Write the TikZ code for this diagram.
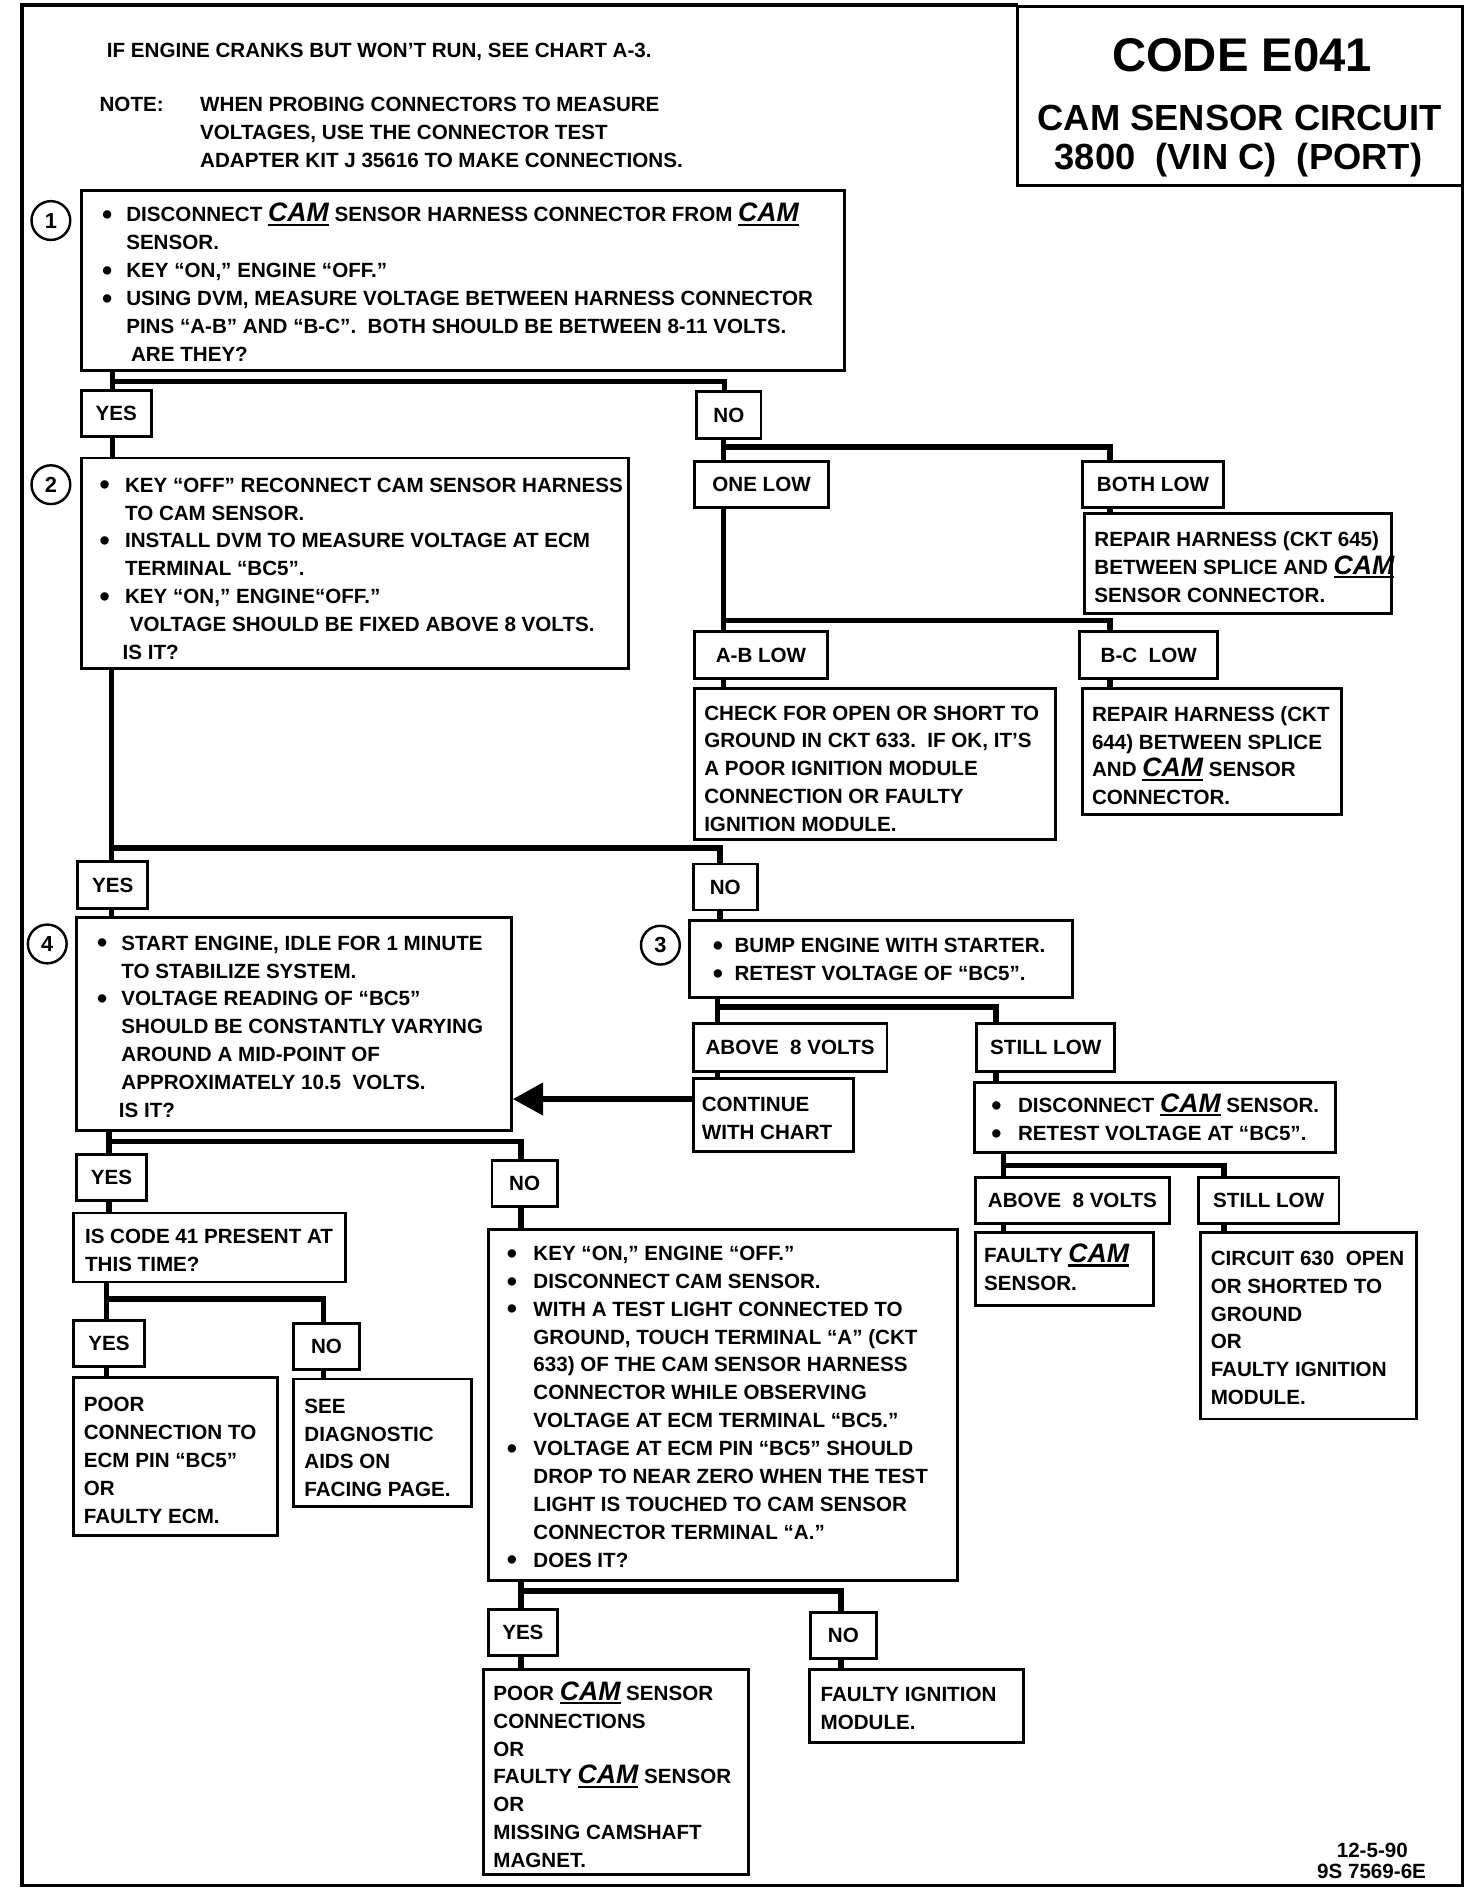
\documentclass[tikz,border=0pt]{standalone}
\usepackage{fontspec}
\setmainfont{Liberation Sans}
\usetikzlibrary{fit,arrows.meta}
\newcommand\cam{\setbox0\hbox{\fontsize{22}{23}\selectfont\bfseries\itshape CAM}\rlap{\rule[-3pt]{\wd0}{1.7pt}}\box0}
\newcommand\bu[1][20]{\makebox[#1pt][l]{\raisebox{-2.2pt}{\fontsize{24}{23}\selectfont\textbullet}}}
\newcommand\ind[1]{\hspace*{#1pt}}
\newcommand\st{\rule{0pt}{16pt}}
\begin{document}
\begin{tikzpicture}[x=1pt,y=-1pt,
  box/.style={draw, line width=2.4pt, inner sep=0pt},
  labt/.style={inner sep=0pt, font=\bfseries\fontsize{17}{23}\selectfont},
  txt/.style={anchor=north west, inner sep=0pt, align=left, font=\bfseries\fontsize{17}{23}\selectfont},
  conn/.style={line width=4.5pt, line cap=rect},
  circ/.style={draw, circle, line width=2pt, minimum size=32pt, inner sep=0pt, font=\bfseries\fontsize{18}{18}\selectfont}]
\useasboundingbox (0,0) rectangle (1213,1568);
% outer frame
\draw[line width=3pt] (840,4) -- (18,4) -- (18,1556) -- (1207,1556) -- (1207,153);
% title
\node[box, fit={(840,5) (1207,153)}] (title) {};
\node[anchor=base, font=\bfseries\fontsize{39}{40}\selectfont] (tt1) at (1025,59) {CODE E041};
\node[anchor=base, font=\bfseries\fontsize{30}{31}\selectfont] (tt2) at (1023,108) {CAM SENSOR CIRCUIT};
\node[anchor=base, font=\bfseries\fontsize{30}{31}\selectfont] (tt3) at (1022,140) {3800\ \ (VIN C)\ \ (PORT)};
% header
\node[txt] (h1) at (88,31) {\st IF ENGINE CRANKS BUT WON’T RUN, SEE CHART A-3.};
\node[txt] (h2) at (82,76) {\st NOTE:};
\node[txt] (h3) at (165,76) {\st WHEN PROBING CONNECTORS TO MEASURE\\VOLTAGES, USE THE CONNECTOR TEST\\ADAPTER KIT J 35616 TO MAKE CONNECTIONS.};
% box 1
\node[box, fit={(67,157) (697,306)}] (box1) {};
\node[circ] (c1) at (42,182) {1};
\node[txt] (box1t) at (84,167) {\st\bu DISCONNECT \cam\ SENSOR HARNESS CONNECTOR FROM \cam\\
\ind{20}SENSOR.\\
\bu KEY “ON,” ENGINE “OFF.”\\
\bu USING DVM, MEASURE VOLTAGE BETWEEN HARNESS CONNECTOR\\
\ind{20}PINS “A-B” AND “B-C”.\ \ BOTH SHOULD BE BETWEEN 8-11 VOLTS.\\
\ind{24}ARE THEY?};
\node[box, fit={(67,322) (125,360)}] (yes1) {};
\node[labt] (yes1t) at (yes1) {YES};
\node[box, fit={(575,323) (628,362)}] (no1) {};
\node[labt] (no1t) at (no1) {NO};
% box 2
\node[box, fit={(67,378) (519,552)}] (box2) {};
\node[circ] (c2) at (42,400) {2};
\node[txt] (box2t) at (82,390) {\st\bu[21]KEY “OFF” RECONNECT CAM SENSOR HARNESS\\
\ind{21}TO CAM SENSOR.\\
\bu[21]INSTALL DVM TO MEASURE VOLTAGE AT ECM\\
\ind{21}TERMINAL “BC5”.\\
\bu[21]KEY “ON,” ENGINE“OFF.”\\
\ind{25}VOLTAGE SHOULD BE FIXED ABOVE 8 VOLTS.\\
\ind{19}IS IT?};
% NO branch of box 1
\node[box, fit={(573,381) (684,419)}] (onelow) {};
\node[labt] (onelowt) at (onelow) {ONE LOW};
\node[box, fit={(893,381) (1010,419)}] (bothlow) {};
\node[labt] (bothlowt) at (bothlow) {BOTH LOW};
\node[box, fit={(895,424) (1148,506)}] (rep645) {};
\node[txt] (rep645t) at (903,435) {\st REPAIR HARNESS (CKT 645)\\BETWEEN SPLICE AND \cam\\SENSOR CONNECTOR.};
\node[box, fit={(573,521) (683,560)}] (ablow) {};
\node[labt] (ablowt) at (ablow) {A-B LOW};
\node[box, fit={(891,521) (1005,560)}] (bclow) {};
\node[labt] (bclowt) at (bclow) {B-C\ \ LOW};
\node[box, fit={(573,568) (871,693)}] (check) {};
\node[txt] (checkt) at (581,578) {\st CHECK FOR OPEN OR SHORT TO\\GROUND IN CKT 633.\ \ IF OK, IT’S\\A POOR IGNITION MODULE\\CONNECTION OR FAULTY\\IGNITION MODULE.};
\node[box, fit={(893,568) (1107,672)}] (rep644) {};
\node[txt] (rep644t) at (901,579) {\st REPAIR HARNESS (CKT\\644) BETWEEN SPLICE\\AND \cam\ SENSOR\\CONNECTOR.};
% level 2 decisions
\node[box, fit={(64,711) (122,750)}] (yes2) {};
\node[labt] (yes2t) at (yes2) {YES};
\node[box, fit={(572,713) (625,751)}] (no2) {};
\node[labt] (no2t) at (no2) {NO};
% box 4
\node[box, fit={(63,757) (422,933)}] (box4) {};
\node[circ] (c4) at (39,779) {4};
\node[txt] (box4t) at (80,768) {\st\bu START ENGINE, IDLE FOR 1 MINUTE\\
\ind{20}TO STABILIZE SYSTEM.\\
\bu VOLTAGE READING OF “BC5”\\
\ind{20}SHOULD BE CONSTANTLY VARYING\\
\ind{20}AROUND A MID-POINT OF\\
\ind{20}APPROXIMATELY 10.5\ \ VOLTS.\\
\ind{18}IS IT?};
% box 3
\node[box, fit={(569,760) (885,823)}] (box3) {};
\node[circ] (c3) at (545,780) {3};
\node[txt] (box3t) at (588,770) {\st\bu[18]BUMP ENGINE WITH STARTER.\\\bu[18]RETEST VOLTAGE OF “BC5”.};
\node[box, fit={(572,845) (732,884)}] (above1) {};
\node[labt] (above1t) at (above1) {ABOVE\ \ 8 VOLTS};
\node[box, fit={(806,845) (920,884)}] (still1) {};
\node[labt] (still1t) at (still1) {STILL LOW};
\node[box, fit={(572,890) (704,950)}] (cont) {};
\node[txt] (contt) at (579,901) {\st CONTINUE\\WITH CHART};
\node[box, fit={(804,893) (1102,951)}] (disc) {};
\node[txt] (disct) at (818,902) {\st\bu[22]DISCONNECT \cam\ SENSOR.\\\bu[22]RETEST VOLTAGE AT “BC5”.};
\node[box, fit={(805,972) (965,1010)}] (above2) {};
\node[labt] (above2t) at (above2) {ABOVE\ \ 8 VOLTS};
\node[box, fit={(989,972) (1105,1010)}] (still2) {};
\node[labt] (still2t) at (still2) {STILL LOW};
\node[box, fit={(805,1017) (952,1077)}] (fcam) {};
\node[txt] (fcamt) at (812,1026) {\st FAULTY \cam\\SENSOR.};
\node[box, fit={(991,1017) (1169,1171)}] (c630) {};
\node[txt] (c630t) at (999,1028) {\st CIRCUIT 630\ \ OPEN\\OR SHORTED TO\\GROUND\\OR\\FAULTY IGNITION\\MODULE.};
% below box 4
\node[box, fit={(63,953) (121,991)}] (yes3) {};
\node[labt] (yes3t) at (yes3) {YES};
\node[box, fit={(406,958) (460,996)}] (no3) {};
\node[labt] (no3t) at (no3) {NO};
\node[box, fit={(61,1001) (285,1058)}] (code41) {};
\node[txt] (code41t) at (70,1010) {\st IS CODE 41 PRESENT AT\\THIS TIME?};
\node[box, fit={(61,1090) (119,1128)}] (yes4) {};
\node[labt] (yes4t) at (yes4) {YES};
\node[box, fit={(242,1092) (297,1130)}] (no4) {};
\node[labt] (no4t) at (no4) {NO};
\node[box, fit={(61,1137) (229,1267)}] (poorconn) {};
\node[txt] (poorconnt) at (69,1149) {\st POOR\\CONNECTION TO\\ECM PIN “BC5”\\OR\\FAULTY ECM.};
\node[box, fit={(242,1138) (389,1243)}] (seediag) {};
\node[txt] (seediagt) at (251,1150) {\st SEE\\DIAGNOSTIC\\AIDS ON\\FACING PAGE.};
\node[box, fit={(403,1015) (790,1304)}] (big) {};
\node[txt] (bigt) at (418,1024) {\st\bu[22]KEY “ON,” ENGINE “OFF.”\\
\bu[22]DISCONNECT CAM SENSOR.\\
\bu[22]WITH A TEST LIGHT CONNECTED TO\\
\ind{22}GROUND, TOUCH TERMINAL “A” (CKT\\
\ind{22}633) OF THE CAM SENSOR HARNESS\\
\ind{22}CONNECTOR WHILE OBSERVING\\
\ind{22}VOLTAGE AT ECM TERMINAL “BC5.”\\
\bu[22]VOLTAGE AT ECM PIN “BC5” SHOULD\\
\ind{22}DROP TO NEAR ZERO WHEN THE TEST\\
\ind{22}LIGHT IS TOUCHED TO CAM SENSOR\\
\ind{22}CONNECTOR TERMINAL “A.”\\
\bu[22]DOES IT?};
\node[box, fit={(403,1328) (460,1366)}] (yes5) {};
\node[labt] (yes5t) at (yes5) {YES};
\node[box, fit={(669,1331) (723,1369)}] (no5) {};
\node[labt] (no5t) at (no5) {NO};
\node[box, fit={(399,1378) (618,1547)}] (poorcam) {};
\node[txt] (poorcamt) at (407,1387) {\st POOR \cam\ SENSOR\\CONNECTIONS\\OR\\FAULTY \cam\ SENSOR\\OR\\MISSING CAMSHAFT\\MAGNET.};
\node[box, fit={(668,1378) (845,1438)}] (fign) {};
\node[txt] (fignt) at (677,1388) {\st FAULTY IGNITION\\MODULE.};
% footer
\node[anchor=base east, inner sep=0pt, font=\bfseries\fontsize{17}{17}\selectfont] (f1) at (1162,1533) {12-5-90};
\node[anchor=base east, inner sep=0pt, font=\bfseries\fontsize{17}{17}\selectfont] (f2) at (1177,1550) {9S 7569-6E};
% junction coordinates
\coordinate (j1) at (93,315);   \coordinate (j1r) at (598,315);
\coordinate (j2) at (597,369);  \coordinate (j2r) at (916,369);
\coordinate (j3) at (597,512);  \coordinate (j3r) at (916,512);
\coordinate (j4) at (92,700);   \coordinate (j4r) at (594,700);
\coordinate (j5) at (592,831);  \coordinate (j5r) at (822,831);
\coordinate (j6) at (828,962);  \coordinate (j6r) at (1010,962);
\coordinate (j7) at (90,942);   \coordinate (j7r) at (430,942);
\coordinate (j8) at (88,1072);  \coordinate (j8r) at (267,1072);
\coordinate (j9) at (430,1313); \coordinate (j9r) at (694,1313);
\coordinate (arr) at (572,907);
% connectors
\draw[conn] (box1.south -| j1) -- (yes1.north -| j1);
\draw[conn] (j1) -- (j1r) -- (no1.north -| j1r);
\draw[conn] (yes1.south -| j1) -- (box2.north -| j1);
\draw[conn] (no1.south -| j2) -- (onelow.north -| j2);
\draw[conn] (j2) -- (j2r) -- (bothlow.north -| j2r);
\draw[conn] (bothlow.south -| j2r) -- (rep645.north -| j2r);
\draw[conn] (onelow.south -| j3) -- (ablow.north -| j3);
\draw[conn] (j3) -- (j3r) -- (bclow.north -| j3r);
\draw[conn] (ablow.south -| j3) -- (check.north -| j3);
\draw[conn] (bclow.south -| j3r) -- (rep644.north -| j3r);
\draw[conn] (box2.south -| j4) -- (yes2.north -| j4);
\draw[conn] (j4) -- (j4r) -- (no2.north -| j4r);
\draw[conn] (yes2.south -| j4) -- (box4.north -| j4);
\draw[conn] (no2.south -| j4r) -- (box3.north -| j4r);
\draw[conn] (box3.south -| j5) -- (above1.north -| j5);
\draw[conn] (j5) -- (j5r) -- (still1.north -| j5r);
\draw[conn] (above1.south -| j5) -- (cont.north -| j5);
\draw[conn] (still1.south -| j5r) -- (disc.north -| j5r);
\draw[line width=5pt, -{Triangle[length=25pt,width=26pt]}] (arr) -- (box4.east |- arr);
\draw[conn] (disc.south -| j6) -- (above2.north -| j6);
\draw[conn] (j6) -- (j6r) -- (still2.north -| j6r);
\draw[conn] (above2.south -| j6) -- (fcam.north -| j6);
\draw[conn] (still2.south -| j6r) -- (c630.north -| j6r);
\draw[conn] (box4.south -| j7) -- (yes3.north -| j7);
\draw[conn] (j7) -- (j7r) -- (no3.north -| j7r);
\draw[conn] (yes3.south -| j7) -- (code41.north -| j7);
\draw[conn] (no3.south -| j7r) -- (big.north -| j7r);
\draw[conn] (code41.south -| j8) -- (yes4.north -| j8);
\draw[conn] (j8) -- (j8r) -- (no4.north -| j8r);
\draw[conn] (yes4.south -| j8) -- (poorconn.north -| j8);
\draw[conn] (no4.south -| j8r) -- (seediag.north -| j8r);
\draw[conn] (big.south -| j9) -- (yes5.north -| j9);
\draw[conn] (j9) -- (j9r) -- (no5.north -| j9r);
\draw[conn] (yes5.south -| j9) -- (poorcam.north -| j9);
\draw[conn] (no5.south -| j9r) -- (fign.north -| j9r);
\end{tikzpicture}
\end{document}
